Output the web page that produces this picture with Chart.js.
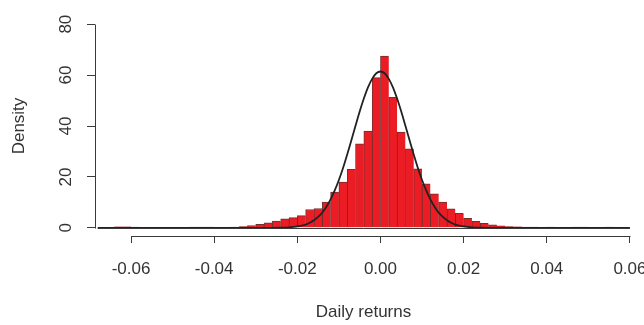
<!DOCTYPE html>
<html>
<head>
<meta charset="utf-8">
<script src="https://cdn.jsdelivr.net/npm/chart.js@4"></script>
<style>
html,body{margin:0;padding:0;background:#ffffff;}
canvas{display:block;}
</style>
</head>
<body>
<canvas id="c" width="644" height="325"></canvas>
<script>
// Histogram bins (centres, width 0.002) and density heights
const binWidth = 0.002;
const binCenters = [-0.067,-0.065,-0.063,-0.061,-0.059,-0.057,-0.055,-0.053,-0.051,-0.049,
  -0.047,-0.045,-0.043,-0.041,-0.039,-0.037,-0.035,-0.033,-0.031,-0.029,
  -0.027,-0.025,-0.023,-0.021,-0.019,-0.017,-0.015,-0.013,-0.011,-0.009,
  -0.007,-0.005,-0.003,-0.001,0.001,0.003,0.005,0.007,0.009,0.011,
  0.013,0.015,0.017,0.019,0.021,0.023,0.025,0.027,0.029,0.031,
  0.033,0.035,0.037,0.039,0.041,0.043,0.045,0.047,0.049,0.051,
  0.053,0.055,0.057,0.059];
const density = [0,0,0.4,0.4,0.3,0,0,0,0,0,
  0.2,0.3,0.3,0.3,0.2,0.2,0.3,0.5,0.9,1.4,
  2.0,2.7,3.5,4.0,4.8,7.2,7.6,10.1,14.0,18.0,
  23.0,33.0,38.0,59.0,67.5,51.3,37.6,31.0,23.2,17.3,
  13.4,10.1,7.5,5.7,3.7,2.6,1.8,1.2,0.8,0.5,
  0.4,0.3,0.3,0.2,0.3,0.2,0,0.3,0.3,0,
  0,0.3,0.2,0];

// Fitted normal density curve
const curveX = [-0.068,-0.030,-0.026,-0.024,-0.022,
  -0.020,-0.019,-0.018,-0.017,-0.016,-0.015,-0.014,-0.013,-0.012,-0.011,
  -0.010,-0.009,-0.008,-0.007,-0.006,-0.005,-0.004,-0.003,-0.002,-0.001,
  0.000,
  0.001,0.002,0.003,0.004,0.005,0.006,0.007,0.008,0.009,0.010,
  0.011,0.012,0.013,0.014,0.015,0.016,0.017,0.018,0.019,0.020,
  0.022,0.024,0.026,0.030,0.060];
const curveY = [0,0,0.02,0.07,0.2,
  0.54,0.86,1.3,2.0,3.0,4.3,6.0,8.3,11.2,14.7,
  18.8,23.5,28.8,34.4,40.1,45.7,50.8,55.2,58.5,60.7,
  61.4,
  60.7,58.5,55.2,50.8,45.7,40.1,34.4,28.8,23.5,18.8,
  14.7,11.2,8.3,6.0,4.3,3.0,2.0,1.3,0.86,0.54,
  0.2,0.07,0.02,0,0];

// Axis ticks
const xTickValues = [-0.06,-0.04,-0.02,0.00,0.02,0.04,0.06];
const xTickLabels = ['-0.06','-0.04','-0.02','0.00','0.02','0.04','0.06'];
const yTickValues = [0,20,40,60,80];
const yTickLabels = ['0','20','40','60','80'];

const FONT = "'Liberation Sans', Arial, Helvetica, sans-serif";
const AXIS_COLOR = '#3a3a3a';
const TEXT_COLOR = '#333333';

const rAxes = {
  id: 'rAxes',
  afterDatasetsDraw(chart) {
    const {ctx, chartArea, scales: {x, y}} = chart;
    ctx.save();
    ctx.strokeStyle = AXIS_COLOR;
    ctx.lineWidth = 1;
    // histogram baseline
    const y0 = Math.round(y.getPixelForValue(0)) + 0.5;
    ctx.beginPath();
    ctx.moveTo(x.getPixelForValue(binCenters[0] - binWidth / 2), y0);
    ctx.lineTo(x.getPixelForValue(binCenters[binCenters.length - 1] + binWidth / 2), y0);
    ctx.stroke();
    // x axis line (R style, from first to last tick)
    const yb = Math.round(chartArea.bottom) + 0.5;
    ctx.beginPath();
    ctx.moveTo(Math.round(x.getPixelForValue(xTickValues[0])) + 0.5, yb);
    ctx.lineTo(Math.round(x.getPixelForValue(xTickValues[xTickValues.length - 1])) + 0.5, yb);
    ctx.stroke();
    // y axis line
    const xl = Math.round(chartArea.left) + 0.5;
    ctx.beginPath();
    ctx.moveTo(xl, Math.round(y.getPixelForValue(yTickValues[0])) + 0.5);
    ctx.lineTo(xl, Math.round(y.getPixelForValue(yTickValues[yTickValues.length - 1])) + 0.5);
    ctx.stroke();
    ctx.restore();
  }
};

new Chart(document.getElementById('c'), {
  type: 'bar',
  data: {
    datasets: [
      {
        type: 'line',
        data: curveX.map((v, i) => ({x: v, y: curveY[i]})),
        borderColor: '#222222',
        borderWidth: 1.8,
        pointRadius: 0,
        fill: false,
        cubicInterpolationMode: 'monotone',
        order: 0
      },
      {
        type: 'bar',
        data: binCenters.map((v, i) => ({x: v, y: density[i]})),
        backgroundColor: '#ec1c24',
        borderColor: 'rgba(90,10,10,0.85)',
        borderWidth: {top: 1, left: 1, right: 0, bottom: 0},
        borderSkipped: false,
        barPercentage: 1,
        categoryPercentage: 1,
        order: 1
      }
    ]
  },
  options: {
    responsive: false,
    animation: false,
    devicePixelRatio: 1,
    layout: {padding: {top: 16, right: 12, bottom: 0, left: 0}},
    plugins: {legend: {display: false}, tooltip: {enabled: false}},
    scales: {
      x: {
        type: 'linear',
        min: -0.06866,
        max: 0.0605,
        offset: false,
        afterBuildTicks: s => { s.ticks = xTickValues.map(v => ({value: v})); },
        afterFit: s => { s.height = 89; s.paddingLeft = 0; s.paddingRight = 0; },
        ticks: {
          autoSkip: false, minRotation: 0, maxRotation: 0, padding: 16,
          color: TEXT_COLOR, font: {family: FONT, size: 17},
          callback: (v, i) => xTickLabels[i]
        },
        grid: {display: true, offset: false, drawOnChartArea: false, drawTicks: true, tickLength: 7, color: AXIS_COLOR, lineWidth: 1},
        border: {display: false},
        title: {display: true, text: 'Daily returns', color: TEXT_COLOR, font: {family: FONT, size: 17}, padding: {top: 0, bottom: 2}}
      },
      y: {
        type: 'linear',
        min: -3.2,
        max: 83.2,
        afterBuildTicks: s => { s.ticks = yTickValues.map(v => ({value: v})); },
        afterFit: s => { s.width = 95; s.paddingTop = 0; s.paddingBottom = 0; },
        ticks: {
          minRotation: 90, maxRotation: 90, crossAlign: 'center', padding: 11.5,
          color: TEXT_COLOR, font: {family: FONT, size: 17},
          callback: (v, i) => yTickLabels[i]
        },
        grid: {display: true, offset: false, drawOnChartArea: false, drawTicks: true, tickLength: 8, color: AXIS_COLOR, lineWidth: 1},
        border: {display: false},
        title: {display: true, text: 'Density', color: TEXT_COLOR, font: {family: FONT, size: 17}, padding: {top: 9.4, bottom: 0}}
      }
    }
  },
  plugins: [rAxes]
});
</script>
</body>
</html>
